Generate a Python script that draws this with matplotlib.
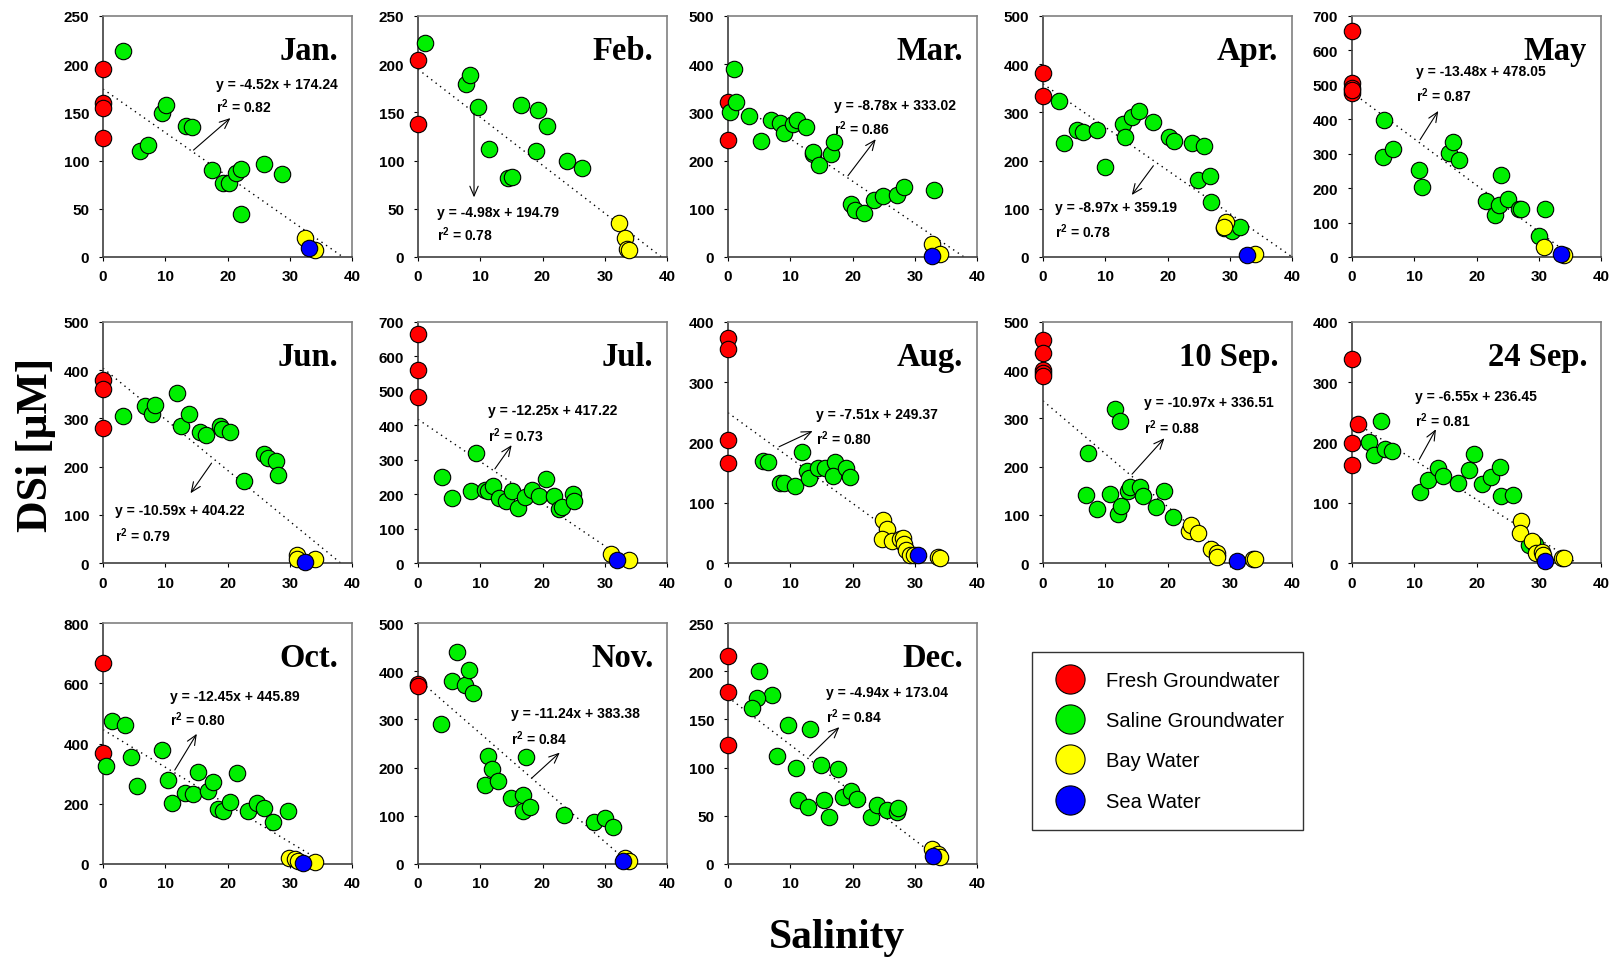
import matplotlib
matplotlib.use("Agg")
import matplotlib.pyplot as plt
from matplotlib.lines import Line2D

plt.rcParams["font.family"] = ["Liberation Sans", "DejaVu Sans"]
plt.rcParams["mathtext.fontset"] = "custom"
plt.rcParams["mathtext.rm"] = "Liberation Sans:bold"
plt.rcParams["mathtext.it"] = "Liberation Sans:bold"
plt.rcParams["mathtext.bf"] = "Liberation Sans:bold"

# ---- data: (salinity, DSi uM) per water type and month ----
jan_fresh = [(0, 195), (0, 160), (0, 155), (0, 123)]
jan_saline = [(3.2, 214), (5.9, 110), (7.3, 116), (9.4, 149), (10.2, 158), (13.4, 136),
              (14.3, 135), (17.5, 90), (19.3, 77), (20.3, 77), (21.3, 87), (22.2, 91),
              (22.2, 45), (25.9, 96), (28.8, 86)]
jan_bay = [(32.4, 20), (34.0, 7)]
jan_sea = [(33.1, 9)]

feb_fresh = [(0, 204), (0, 138)]
feb_saline = [(1.2, 222), (7.7, 179), (8.3, 189), (9.7, 156), (11.4, 112), (14.4, 82),
              (15.1, 83), (16.5, 158), (19.2, 153), (18.9, 110), (20.7, 136), (23.9, 100),
              (26.3, 92)]
feb_bay = [(32.3, 35), (33.3, 20), (33.6, 8), (33.9, 7)]
feb_sea = []

mar_fresh = [(0, 322), (0, 242)]
mar_saline = [(1.0, 391), (0.4, 301), (1.3, 321), (3.4, 292), (5.3, 240), (6.9, 285),
              (8.3, 277), (9.0, 258), (10.4, 276), (11.1, 285), (12.6, 269), (13.6, 213),
              (13.7, 218), (14.6, 190), (16.5, 214), (17.1, 239), (19.7, 110), (20.4, 97),
              (21.8, 91), (23.5, 119), (24.9, 127), (27.2, 128), (28.3, 146), (33.1, 138)]
mar_bay = [(32.7, 27), (34.0, 6)]
mar_sea = [(32.7, 3)]

apr_fresh = [(0, 382), (0, 333)]
apr_saline = [(2.5, 323), (3.4, 237), (5.4, 263), (6.4, 259), (8.7, 263), (10.0, 186),
              (12.9, 275), (13.2, 249), (14.3, 291), (15.5, 303), (17.7, 280), (20.3, 248),
              (21.0, 240), (23.9, 236), (25.8, 231), (24.9, 159), (26.9, 169), (27.0, 114),
              (29.1, 60), (30.4, 54), (31.7, 62)]
apr_bay = [(29.4, 72), (29.0, 62), (34.1, 6)]
apr_sea = [(32.7, 5)]

may_fresh = [(0, 655), (0, 506), (0, 491), (0, 476), (0, 485)]
may_saline = [(5.1, 397), (4.9, 290), (6.6, 314), (10.7, 253), (11.3, 204), (15.6, 301),
              (16.2, 334), (17.2, 282), (21.5, 163), (22.9, 121), (23.6, 150), (24.0, 238),
              (25.0, 168), (26.8, 138), (27.2, 138), (31.0, 139), (30.1, 61)]
may_bay = [(30.9, 30), (34.1, 7)]
may_sea = [(33.5, 10)]

jun_fresh = [(0, 380), (0, 360), (0, 280)]
jun_saline = [(3.2, 305), (6.7, 326), (7.8, 309), (8.4, 327), (11.9, 353), (12.6, 284),
              (13.8, 310), (15.6, 272), (16.6, 266), (18.8, 284), (19.1, 278), (20.4, 272),
              (22.6, 171), (25.9, 227), (26.5, 218), (27.8, 211), (28.1, 182)]
jun_bay = [(31.1, 16), (31.2, 8), (34.0, 9)]
jun_sea = [(32.4, 3)]

jul_fresh = [(0, 666), (0, 560), (0, 482)]
jul_saline = [(3.8, 250), (5.5, 190), (8.5, 210), (9.3, 320), (10.8, 211), (11.2, 209),
              (12.1, 223), (13.0, 189), (14.1, 179), (15.1, 208), (16.1, 160), (17.2, 192),
              (18.3, 213), (19.4, 194), (20.5, 244), (21.9, 195), (22.7, 158), (23.1, 162),
              (24.9, 199), (25.0, 181)]
jul_bay = [(31.0, 26), (33.9, 9)]
jul_sea = [(32.0, 10)]

aug_fresh = [(0, 373), (0, 355), (0, 204), (0, 166)]
aug_saline = [(5.6, 170), (6.5, 167), (8.3, 133), (9.0, 132), (10.7, 127), (11.9, 184),
              (12.7, 152), (13.0, 141), (14.5, 158), (15.6, 158), (17.2, 168), (16.9, 144),
              (18.9, 158), (19.6, 142)]
aug_bay = [(24.9, 72), (25.5, 57), (24.7, 40), (26.3, 37), (27.6, 40), (28.1, 42),
           (28.3, 32), (28.6, 21), (29.3, 13), (29.9, 13), (33.7, 10), (34.0, 8)]
aug_sea = [(30.5, 14)]

sep10_fresh = [(0, 462), (0, 436), (0, 401), (0, 395), (0, 387)]
sep10_saline = [(11.5, 319), (12.3, 295), (7.2, 228), (6.9, 142), (8.6, 113), (10.7, 144),
                (12.1, 102), (12.5, 119), (13.7, 149), (14.0, 158), (15.6, 158), (16.1, 138),
                (18.2, 116), (19.5, 149), (20.9, 95)]
sep10_bay = [(23.4, 66), (23.8, 78), (24.9, 62), (27.0, 30), (27.9, 21), (28.0, 12),
             (33.7, 9), (34.1, 9)]
sep10_sea = [(31.1, 5)]

sep24_fresh = [(0, 339), (0.9, 231), (0, 200), (0, 163)]
sep24_saline = [(4.7, 236), (2.8, 201), (3.5, 179), (5.3, 189), (6.4, 186), (11.0, 118),
                (12.2, 137), (13.8, 157), (14.6, 144), (17.0, 133), (18.8, 154), (19.6, 181),
                (20.9, 131), (22.3, 143), (23.7, 159), (23.9, 111), (25.9, 113), (28.4, 30),
                (29.4, 32)]
sep24_bay = [(27.2, 69), (27.0, 50), (28.9, 36), (29.5, 17), (30.6, 19), (30.7, 13),
             (33.8, 8), (34.0, 8)]
sep24_sea = [(31.0, 4)]

oct_fresh = [(0, 667), (0, 368)]
oct_saline = [(0.5, 324), (1.5, 474), (3.6, 461), (4.5, 354), (5.5, 258), (9.4, 378),
              (10.4, 279), (11.1, 202), (13.2, 236), (14.5, 232), (15.2, 306), (16.8, 243),
              (17.7, 271), (18.4, 183), (19.3, 175), (20.4, 207), (21.5, 302), (23.3, 177),
              (24.8, 201), (25.8, 186), (27.3, 140), (29.7, 177)]
oct_bay = [(29.9, 19), (30.8, 17), (31.3, 9), (34.0, 8)]
oct_sea = [(32.2, 3)]

nov_fresh = [(0, 374), (0, 369)]
nov_saline = [(6.2, 439), (5.5, 379), (7.6, 372), (8.2, 402), (8.9, 355), (3.7, 290),
              (11.2, 225), (11.9, 198), (10.8, 163), (12.8, 172), (17.4, 223), (14.9, 136),
              (16.9, 144), (16.9, 109), (18.0, 118), (23.4, 102), (28.3, 87), (30.1, 95),
              (31.3, 76)]
nov_bay = [(33.2, 12), (33.9, 6)]
nov_sea = [(32.9, 7)]

dec_fresh = [(0, 216), (0, 178), (0, 123)]
dec_saline = [(5.0, 200), (7.0, 175), (4.6, 172), (3.9, 162), (9.7, 144), (13.1, 140),
              (7.9, 112), (10.9, 100), (14.9, 103), (17.6, 99), (11.3, 66), (12.9, 59),
              (15.5, 66), (16.3, 49), (18.5, 70), (19.7, 76), (20.7, 67), (22.9, 49),
              (23.9, 61), (25.6, 56), (27.1, 54), (27.3, 58)]
dec_bay = [(32.7, 16), (33.8, 10), (34.1, 7)]
dec_sea = [(33.0, 8)]

months = ["Jan.", "Feb.", "Mar.", "Apr.", "May", "Jun.", "Jul.", "Aug.",
          "10 Sep.", "24 Sep.", "Oct.", "Nov.", "Dec."]
y_max = [250, 250, 500, 500, 700, 500, 700, 400, 500, 400, 800, 500, 250]
y_step = [50, 50, 100, 100, 100, 100, 100, 100, 100, 100, 200, 100, 50]
slopes = [-4.52, -4.98, -8.78, -8.97, -13.48, -10.59, -12.25, -7.51, -10.97, -6.55,
          -12.45, -11.24, -4.94]
intercepts = [174.24, 194.79, 333.02, 359.19, 478.05, 404.22, 417.22, 249.37, 336.51,
              236.45, 445.89, 383.38, 173.04]
r_squared = [0.82, 0.78, 0.86, 0.78, 0.87, 0.79, 0.73, 0.80, 0.88, 0.81, 0.80, 0.84, 0.84]

groups = [
    (jan_fresh, jan_saline, jan_bay, jan_sea),
    (feb_fresh, feb_saline, feb_bay, feb_sea),
    (mar_fresh, mar_saline, mar_bay, mar_sea),
    (apr_fresh, apr_saline, apr_bay, apr_sea),
    (may_fresh, may_saline, may_bay, may_sea),
    (jun_fresh, jun_saline, jun_bay, jun_sea),
    (jul_fresh, jul_saline, jul_bay, jul_sea),
    (aug_fresh, aug_saline, aug_bay, aug_sea),
    (sep10_fresh, sep10_saline, sep10_bay, sep10_sea),
    (sep24_fresh, sep24_saline, sep24_bay, sep24_sea),
    (oct_fresh, oct_saline, oct_bay, oct_sea),
    (nov_fresh, nov_saline, nov_bay, nov_sea),
    (dec_fresh, dec_saline, dec_bay, dec_sea),
]

# ---- layout (not data) ----
# arrow tail, arrow head, equation text, r2 text (data coords) for each panel
notes = [
    ((14.2, 109), (20.8, 146), (18.1, 179), (18.1, 157)),
    ((9.0, 152), (9.0, 59), (3.0, 47), (3.0, 24)),
    ((19.0, 164), (24.0, 249), (17.1, 315), (17.1, 269)),
    ((18.0, 194), (14.0, 124), (1.9, 104), (1.9, 55)),
    ((10.7, 334), (14.1, 431), (10.3, 539), (10.3, 470)),
    ((17.7, 212), (13.8, 140), (2.0, 109), (2.0, 59)),
    ((12.1, 267), (15.3, 349), (11.3, 445), (11.3, 374)),
    ((7.8, 191), (14.0, 221), (14.2, 248), (14.2, 208)),
    ((14.0, 180), (19.8, 263), (16.3, 333), (16.3, 282)),
    ((10.6, 168), (13.7, 226), (10.2, 277), (10.2, 238)),
    ((11.3, 304), (15.3, 440), (10.7, 559), (10.7, 481)),
    ((18.0, 175), (23.1, 235), (14.9, 313), (14.9, 263)),
    ((12.8, 110), (18.2, 144), (15.8, 178), (15.8, 154)),
]

W, H = 1617, 962
col_left = [103, 418, 728, 1043, 1352]
row_top = [17, 323, 624]
ax_w, ax_h = 249, 241
colors = ["#ff0000", "#00f000", "#ffff00", "#0000ff"]
labels = ["Fresh Groundwater", "Saline Groundwater", "Bay Water", "Sea Water"]

fig = plt.figure(figsize=(W / 100, H / 100), dpi=100)

for i, name in enumerate(months):
    r, c = divmod(i, 5)
    left = col_left[c] / W
    bottom = 1 - (row_top[r] + ax_h) / H
    ax = fig.add_axes([left, bottom, ax_w / W, ax_h / H])

    for pts, col in zip(groups[i], colors):
        if not pts:
            continue
        xs = [p[0] for p in pts]
        ys = [p[1] for p in pts]
        ax.scatter(xs, ys, s=140, c=col, edgecolors="black", linewidths=0.8,
                   clip_on=False, zorder=3)

    # fitted line, drawn down to the x intercept
    x_end = min(-intercepts[i] / slopes[i], 40)
    ax.plot([0, x_end], [intercepts[i], intercepts[i] + slopes[i] * x_end],
            color="black", lw=1.0, linestyle=(0, (1, 3)), zorder=2)

    tail, head, eq_pos, r2_pos = notes[i]
    ax.annotate("", xy=head, xytext=tail,
                arrowprops=dict(arrowstyle="->,head_length=0.7,head_width=0.3",
                                color="black", lw=0.8))
    ax.text(eq_pos[0], eq_pos[1], f"y = {slopes[i]:.2f}x + {intercepts[i]:.2f}",
            fontsize=10, fontweight="bold", va="center", ha="left")
    ax.text(r2_pos[0], r2_pos[1], f"r$^{{2}}$ = {r_squared[i]:.2f}",
            fontsize=10, fontweight="bold", va="center", ha="left")

    ax.text(0.945, 0.82, name, transform=ax.transAxes, ha="right", va="baseline",
            fontsize=23.5, fontweight="bold", family="Liberation Serif")

    ax.set_xlim(0, 40)
    ax.set_ylim(0, y_max[i])
    ax.set_xticks(range(0, 41, 10))
    ax.set_yticks(range(0, y_max[i] + 1, y_step[i]))
    ax.tick_params(labelsize=11, length=3, width=0.8)
    ax.tick_params(axis="x", pad=6)
    ax.tick_params(axis="y", pad=7)
    for lab in ax.get_xticklabels() + ax.get_yticklabels():
        lab.set_fontweight("bold")
    for side in ["left", "bottom"]:
        ax.spines[side].set_color("#404040")
        ax.spines[side].set_linewidth(1.2)
    for side in ["top", "right"]:
        ax.spines[side].set_color("#808080")
        ax.spines[side].set_linewidth(1.2)

fig.text(36 / W, 1 - 445 / H, "DSi [μM]", rotation=90, ha="center", va="center",
         fontsize=31.5, fontweight="bold", family="Liberation Serif")
fig.text(837 / W, 1 - 938 / H, "Salinity", ha="center", va="center",
         fontsize=30, fontweight="bold", family="Liberation Serif")

handles = [Line2D([], [], marker="o", linestyle="none", markersize=21,
                  markerfacecolor=col, markeredgecolor="black", markeredgewidth=0.8)
           for col in colors]
leg = fig.legend(handles, labels, loc="upper left",
                 bbox_to_anchor=(1032 / W, 1 - 653 / H), borderaxespad=0,
                 fontsize=14.5, frameon=True, fancybox=False, edgecolor="black",
                 labelspacing=1.05, handletextpad=0.8, borderpad=0.95,
                 handlelength=1.9)
leg.get_frame().set_linewidth(1.0)

fig.savefig("out.png", dpi=100)
